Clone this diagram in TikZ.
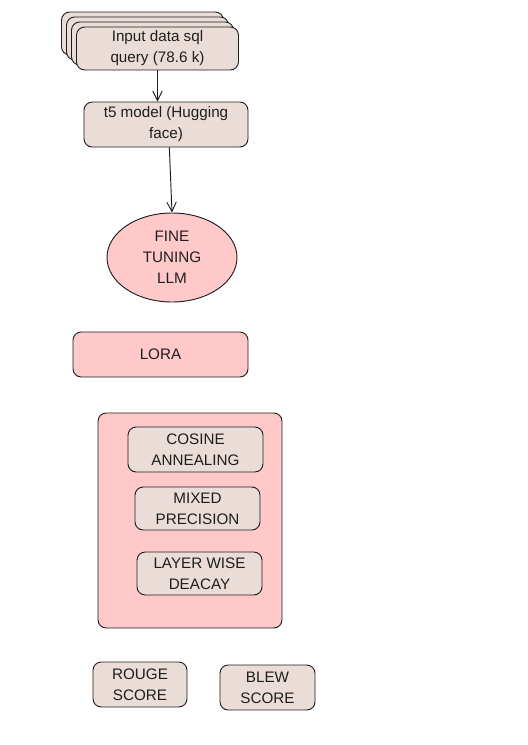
\documentclass[tikz,border=0pt]{standalone}
\usepackage{fontspec}
\setmainfont{Liberation Sans}
\usepackage{xcolor}
\usepackage{tikz}
\usetikzlibrary{shapes.geometric, arrows.meta, positioning, shadows}

\definecolor{boxbeige}{HTML}{EADDD7}
\definecolor{boxpink}{HTML}{FFC9C9}
\definecolor{edge}{HTML}{1E1E1E}

\begin{document}
\begin{tikzpicture}[
    x=0.03cm, y=-0.03cm,
    font=\fontsize{13}{18}\selectfont,
    >={Straight Barb[length=8pt, width=8pt]},
    box/.style={draw=edge, rounded corners=7pt, fill=#1, align=center, inner sep=2pt, line width=0.8pt, text=edge},
    box/.default=boxbeige,
    oval/.style={ellipse, draw=edge, fill=boxpink, align=center, inner sep=0pt, line width=0.8pt, text=edge},
    arrow/.style={->, line width=0.8pt, color=edge}
]
\useasboundingbox (0,0) rectangle (528,745);

% === INPUT ===
\node[box, minimum width=4.86cm, minimum height=1.29cm,
    copy shadow={fill=boxbeige, draw=edge, shadow xshift=-0.45cm, shadow yshift=0.45cm},
    copy shadow={fill=boxbeige, draw=edge, shadow xshift=-0.3cm, shadow yshift=0.3cm},
    copy shadow={fill=boxbeige, draw=edge, shadow xshift=-0.15cm, shadow yshift=0.15cm}]
    (input) at (157.5, 48.5) {Input data sql\\query (78.6 k)};
\node[box, minimum width=4.92cm, minimum height=1.35cm] (t5) at (166, 124.5) {t5 model (Hugging\\face)};

% === FINE TUNING ===
\node[oval, minimum width=3.9cm, minimum height=2.67cm] (fine) at (172, 257.5) {FINE\\TUNING\\LLM};
\node[box=boxpink, minimum width=5.25cm, minimum height=1.35cm] (lora) at (160.5, 354.5) {LORA};

% === TRAINING TRICKS ===
\node[box=boxpink, minimum width=5.52cm, minimum height=6.45cm] (tricks) at (190, 520.5) {};
\node[box, minimum width=4.05cm, minimum height=1.35cm] (cosine) at (195.5, 449.5) {COSINE\\ANNEALING};
\node[box, minimum width=3.75cm, minimum height=1.29cm] (mixed) at (197.5, 508.5) {MIXED\\PRECISION};
\node[box, minimum width=3.75cm, minimum height=1.29cm] (layer) at (199.5, 573.5) {LAYER WISE\\DEACAY};

% === METRICS ===
\node[box, minimum width=2.82cm, minimum height=1.35cm] (rouge) at (140, 684.5) {ROUGE\\SCORE};
\node[box, minimum width=2.85cm, minimum height=1.35cm] (blew) at (267.5, 687.5) {BLEW\\SCORE};

% === ARROWS ===
\draw[arrow] (input.south) -- (input.south |- t5.north);
\draw[arrow] ([xshift=0.1cm]t5.south) -- (fine.north);

\end{tikzpicture}
\end{document}
